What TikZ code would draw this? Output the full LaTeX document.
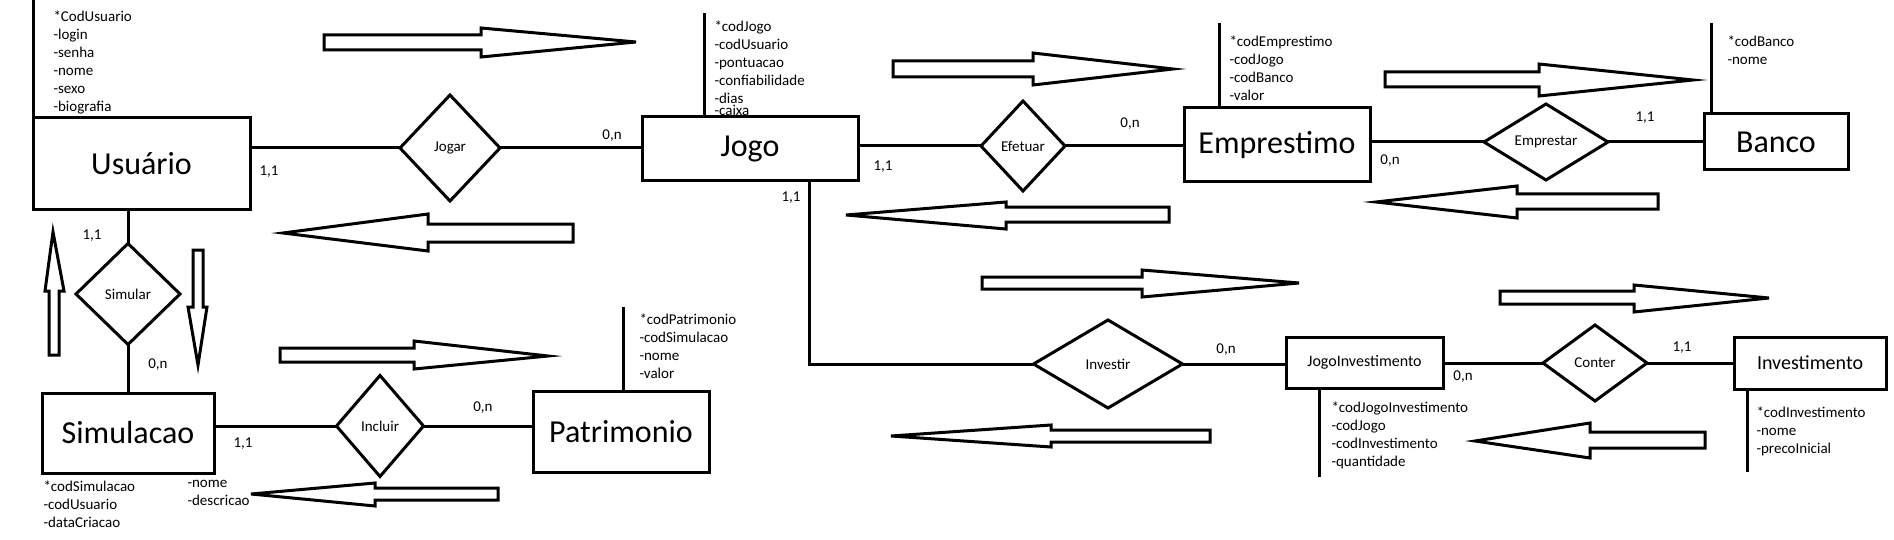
\documentclass[tikz,border=0pt]{standalone}
\usepackage{fontspec}
\setmainfont{Carlito}
\usetikzlibrary{shapes.geometric}

\begin{document}
\begin{tikzpicture}[x=1pt,y=-1pt,line width=3pt,
	ent/.style={draw,rectangle,inner sep=0pt,outer sep=0pt,font=\fontsize{32}{38}\selectfont},
	rel/.style={draw,diamond,inner sep=0pt,outer sep=0pt,font=\fontsize{15}{18}\selectfont},
	attr/.style={anchor=north west,align=left,inner sep=0pt,font=\fontsize{15}{18}\selectfont,execute at begin node=\strut},
	card/.style={inner sep=0pt,font=\fontsize{15}{18}\selectfont},
	blk/.style={draw,line width=3pt}]
	\useasboundingbox (0,0) rectangle (1894,540);

	\node [ent,minimum width=217,minimum height=91] (usuario) at (141.5,163.5) {Usuário};
	\node [ent,minimum width=216,minimum height=64] (jogo) at (750,149) {Jogo};
	\node [ent,minimum width=186,minimum height=74] (emprestimo) at (1277,145) {Emprestimo};
	\node [ent,minimum width=144,minimum height=56] (banco) at (1776,142) {Banco};
	\node [ent,minimum width=172,minimum height=80] (simulacao) at (128,433) {Simulacao};
	\node [ent,minimum width=176,minimum height=81] (patrimonio) at (621,431.5) {Patrimonio};
	\node [ent,minimum width=157,minimum height=51,font=\fontsize{16}{19}\selectfont] (jogoinv) at (1364.5,362.5) {JogoInvestimento};
	\node [ent,minimum width=152,minimum height=52,font=\fontsize{20}{24}\selectfont] (investimento) at (1810,363) {Investimento};

	\node [rel,minimum width=100,minimum height=106] (jogar) at (450,148) {Jogar};
	\node [rel,minimum width=84,minimum height=90] (efetuar) at (1023,146) {Efetuar};
	\node [rel,minimum width=124,minimum height=76] (emprestar) at (1546,142) {Emprestar};
	\node [rel,minimum width=104,minimum height=101] (simular) at (128,294) {Simular};
	\node [rel,minimum width=87,minimum height=101] (incluir) at (380,426) {Incluir};
	\node [rel,minimum width=149,minimum height=88] (investir) at (1108,364) {Investir};
	\node [rel,minimum width=104,minimum height=76] (conter) at (1595,363) {Conter};

	\draw (jogar.west -| usuario.east) -- (jogar.west);
	\draw (jogar.east) -- (jogar.east -| jogo.west);
	\draw (efetuar.west -| jogo.east) -- (efetuar.west);
	\draw (efetuar.east) -- (efetuar.east -| emprestimo.west);
	\draw (emprestar.west -| emprestimo.east) -- (emprestar.west);
	\draw (emprestar.east) -- (emprestar.east -| banco.west);
	\draw (simular.north |- usuario.south) -- (simular.north);
	\draw (simular.south) -- (simular.south |- simulacao.north);
	\draw (incluir.west -| simulacao.east) -- (incluir.west);
	\draw (incluir.east) -- (incluir.east -| patrimonio.west);
	\coordinate (dobra) at (809,364);
	\draw (dobra |- jogo.south) -- (dobra) -- (investir.west);
	\draw (investir.east) -- (investir.east -| jogoinv.west);
	\draw (conter.west -| jogoinv.east) -- (conter.west);
	\draw (conter.east) -- (conter.east -| investimento.west);

	\node [card] (c1) at (269,172) {1,1};
	\node [card] (c2) at (612,136) {0,n};
	\node [card] (c3) at (883,167) {1,1};
	\node [card] (c4) at (1130,124) {0,n};
	\node [card] (c5) at (1390,161) {0,n};
	\node [card] (c6) at (1645,118) {1,1};
	\node [card] (c7) at (791,198) {1,1};
	\node [card] (c8) at (92,236) {1,1};
	\node [card] (c9) at (158,365) {0,n};
	\node [card] (c10) at (243,444) {1,1};
	\node [card] (c11) at (483,408) {0,n};
	\node [card] (c12) at (1226,350) {0,n};
	\node [card] (c13) at (1463,377) {0,n};
	\node [card] (c14) at (1682,348) {1,1};

	\coordinate (usuarioattr) at (33,0);
	\coordinate (jogoattr) at (704,13);
	\coordinate (emprestimoattr) at (1219,23);
	\coordinate (bancoattr) at (1711,23);
	\coordinate (patrimonioattr) at (623,307);
	\coordinate (jogoinvattr) at (1319,477);
	\coordinate (investimentoattr) at (1747,472);
	\draw (usuarioattr) -- (usuarioattr |- usuario.north);
	\draw (jogoattr) -- (jogoattr |- jogo.north);
	\draw (emprestimoattr) -- (emprestimoattr |- emprestimo.north);
	\draw (bancoattr) -- (bancoattr |- banco.north);
	\draw (patrimonioattr) -- (patrimonioattr |- patrimonio.north);
	\draw (jogoinvattr) -- (jogoinvattr |- jogoinv.south);
	\draw (investimentoattr) -- (investimentoattr |- investimento.south);

	\node [attr] (usuariolist) at (52,9) {*CodUsuario\\-login\\-senha\\-nome\\-sexo\\-biografia};
	\node [attr] (jogolist) at (713,19) {*codJogo\\-codUsuario\\-pontuacao\\-confiabilidade\\-dias\\[-6pt]-caixa};
	\node [attr] (emprestimolist) at (1228,34) {*codEmprestimo\\-codJogo\\-codBanco\\-valor};
	\node [attr] (bancolist) at (1726,34) {*codBanco\\-nome};
	\node [attr] (patrimoniolist) at (638,312) {*codPatrimonio\\-codSimulacao\\-nome\\-valor};
	\node [attr] (simulacaolist) at (42,479) {*codSimulacao\\-codUsuario\\-dataCriacao};
	\node [attr] (simulacaolist2) at (186,479) {-nome\\-descricao};
	\node [attr] (jogoinvlist) at (1330,400) {*codJogoInvestimento\\-codJogo\\-codInvestimento\\-quantidade};
	\node [attr] (investimentolist) at (1755,405) {*codInvestimento\\-nome\\-precoInicial};

	\draw [blk] (324,35) -- (481,35) -- (481,28) -- (636,42) -- (481,57) -- (481,50) -- (324,50) -- cycle;
	\draw [blk] (893,61) -- (1033,61) -- (1033,53) -- (1173,69) -- (1033,85) -- (1033,77) -- (893,77) -- cycle;
	\draw [blk] (1385,72) -- (1539,72) -- (1539,64) -- (1693,80) -- (1539,96) -- (1539,87) -- (1385,87) -- cycle;
	\draw [blk] (982,277) -- (1142,277) -- (1142,270) -- (1299,283) -- (1142,297) -- (1142,289) -- (982,289) -- cycle;
	\draw [blk] (1500,291) -- (1634,291) -- (1634,285) -- (1769,298) -- (1634,312) -- (1634,304) -- (1500,304) -- cycle;
	\draw [blk] (280,348) -- (414,348) -- (414,341) -- (548,356) -- (414,369) -- (414,362) -- (280,362) -- cycle;
	\draw [blk] (573,224) -- (428,224) -- (428,214) -- (283,233) -- (428,251) -- (428,242) -- (573,242) -- cycle;
	\draw [blk] (1169,207) -- (1006,207) -- (1006,202) -- (846,215) -- (1006,229) -- (1006,222) -- (1169,222) -- cycle;
	\draw [blk] (1658,194) -- (1517,194) -- (1517,186) -- (1376,202) -- (1517,218) -- (1517,209) -- (1658,209) -- cycle;
	\draw [blk] (1210,430) -- (1051,430) -- (1051,425) -- (891,436) -- (1051,447) -- (1051,442) -- (1210,442) -- cycle;
	\draw [blk] (1705,432) -- (1590,432) -- (1590,423) -- (1475,441) -- (1590,458) -- (1590,448) -- (1705,448) -- cycle;
	\draw [blk] (498,488) -- (375,488) -- (375,483) -- (251,494) -- (375,506) -- (375,500) -- (498,500) -- cycle;
	\draw [blk] (49,355) -- (49,291) -- (45,291) -- (53,232) -- (64,291) -- (59,291) -- (59,355) -- cycle;
	\draw [blk] (193,250) -- (203,250) -- (203,307) -- (207,307) -- (198,365) -- (188,307) -- (193,307) -- cycle;
\end{tikzpicture}
\end{document}
